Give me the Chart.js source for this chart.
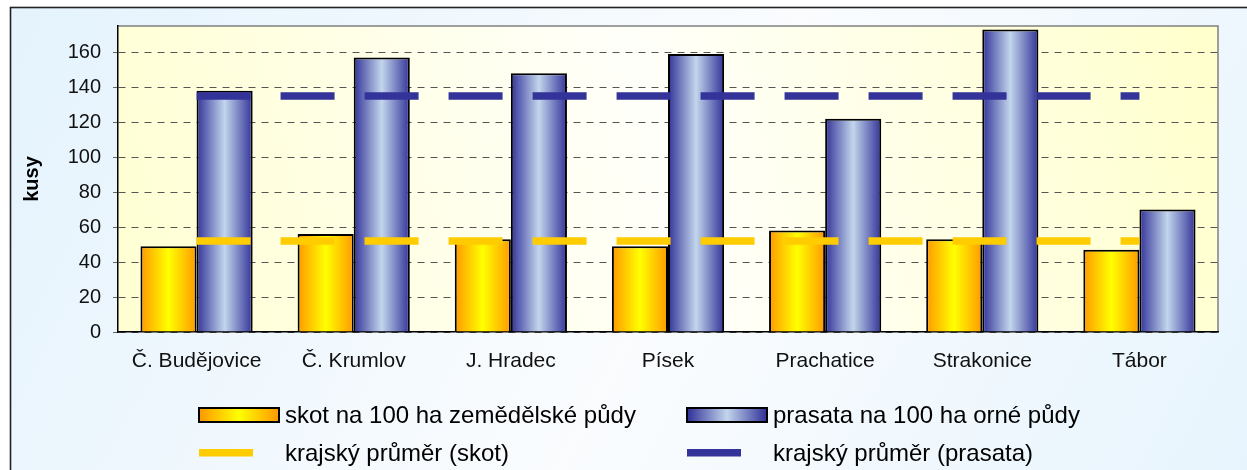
<!DOCTYPE html>
<html>
<head>
<meta charset="utf-8">
<script src="https://cdn.jsdelivr.net/npm/chart.js@4/dist/chart.umd.min.js"></script>
<style>
  html, body { margin: 0; padding: 0; background: #ffffff; }
  #wrap { width: 1247px; height: 470px; position: relative; }
</style>
</head>
<body>
<div id="wrap"><canvas id="c" width="1247" height="470"></canvas></div>
<script>
// ---- data ----
const categories = ['Č. Budějovice', 'Č. Krumlov', 'J. Hradec', 'Písek', 'Prachatice', 'Strakonice', 'Tábor'];
const skot = [49, 56, 53, 49, 58, 53, 47];
const prasata = [138, 157, 148, 159, 122, 173, 70];
const skotPrumer = [52, 52, 52, 52, 52, 52, 52];
const prasataPrumer = [135, 135, 135, 135, 135, 135, 135];
const yMin = 0;
const yMax = 175;
const yStep = 20;
const yTitle = 'kusy';
const seriesLabels = ['skot na 100 ha zemědělské půdy', 'prasata na 100 ha orné půdy', 'krajský průměr (skot)', 'krajský průměr (prasata)'];

// ---- styling ----
const FONT = '"Liberation Sans", Arial, sans-serif';
const CAT_PCT = 0.714;
const orangeStops = ['#FF9900', '#FFFF00', '#FF9900'];
const blueStops = ['#333399', '#C2D6EC', '#333399'];
const yellowLine = '#FFCC00';
const blueLine = '#333399';

function hGrad(ctx2d, x0, x1, stops) {
  const g = ctx2d.createLinearGradient(x0, 0, x1, 0);
  g.addColorStop(0, stops[0]);
  g.addColorStop(0.5, stops[1]);
  g.addColorStop(1, stops[2]);
  return g;
}

function barFill(stops, side) {
  return function (context) {
    const chart = context.chart;
    if (context.type !== 'data' || !chart.chartArea || !chart.scales.x) return stops[1];
    const xs = chart.scales.x;
    const center = xs.getPixelForValue(context.dataIndex);
    const catW = (xs.right - xs.left) / categories.length;
    const bw = catW * CAT_PCT / 2;
    const x0 = side === 0 ? center - bw : center;
    return hGrad(chart.ctx, x0, x0 + bw, stops);
  };
}

const backgroundPlugin = {
  id: 'bgPlugin',
  beforeDraw(chart) {
    const ctx = chart.ctx;
    const W = chart.width, H = chart.height;
    ctx.save();
    ctx.fillStyle = '#ffffff';
    ctx.fillRect(0, 0, W, H);
    // outer panel
    const og = ctx.createLinearGradient(10, 7, W, H + 200);
    og.addColorStop(0, '#E4F3FD');
    og.addColorStop(0.5, '#FAFCFE');
    og.addColorStop(1, '#E4F3FD');
    ctx.fillStyle = og;
    ctx.fillRect(10, 7, W - 10, H - 7);
    ctx.strokeStyle = '#222222';
    ctx.lineWidth = 1.6;
    ctx.strokeRect(10.5, 7.5, W + 10, H + 10);
    // plot area
    const a = chart.chartArea;
    const pg = ctx.createLinearGradient(a.left, a.bottom, a.right, a.top);
    pg.addColorStop(0, '#FFFFD2');
    pg.addColorStop(0.5, '#FFFFFA');
    pg.addColorStop(1, '#FFFFCC');
    ctx.fillStyle = pg;
    ctx.fillRect(a.left, a.top, a.right - a.left, a.bottom - a.top);
    ctx.strokeStyle = '#808080';
    ctx.lineWidth = 1.5;
    ctx.beginPath();
    ctx.moveTo(a.left, a.top);
    ctx.lineTo(a.right, a.top);
    ctx.lineTo(a.right, a.bottom);
    ctx.stroke();
    ctx.restore();
  }
};

const legendPlugin = {
  id: 'customLegend',
  afterDraw(chart) {
    const ctx = chart.ctx;
    ctx.save();
    const cols = [198, 686];
    const textX = [285, 773];
    const rows = [415, 453];
    const ds = chart.data.datasets;
    ctx.font = '24px ' + FONT;
    ctx.fillStyle = '#000000';
    ctx.textBaseline = 'middle';
    ctx.textAlign = 'left';
    // bar swatches
    const barStops = [orangeStops, blueStops];
    for (let i = 0; i < 2; i++) {
      const x = cols[i], y = rows[0] - 8, w = 82, h = 16;
      ctx.fillStyle = '#000000';
      ctx.fillRect(x, y, w, h);
      ctx.fillStyle = hGrad(ctx, x + 2, x + w - 2, barStops[i]);
      ctx.fillRect(x + 2, y + 2, w - 4, h - 4);
      ctx.fillStyle = '#000000';
      ctx.fillText(ds[i].label, textX[i], rows[0] + 1);
    }
    // line swatches
    for (let i = 0; i < 2; i++) {
      const d = ds[2 + i];
      ctx.fillStyle = d.borderColor;
      ctx.fillRect(cols[i] + 1, rows[1] - 4, 54, 7.5);
      ctx.fillStyle = '#000000';
      ctx.fillText(d.label, textX[i], rows[1] + 1);
    }
    ctx.restore();
  }
};

const chart = new Chart(document.getElementById('c'), {
  data: {
    labels: categories,
    datasets: [
      {
        type: 'bar', label: seriesLabels[0], data: skot, order: 2,
        backgroundColor: barFill(orangeStops, 0), borderColor: '#000000', borderWidth: 2,
        categoryPercentage: CAT_PCT, barPercentage: 1
      },
      {
        type: 'bar', label: seriesLabels[1], data: prasata, order: 2,
        backgroundColor: barFill(blueStops, 1), borderColor: '#000000', borderWidth: 2,
        categoryPercentage: CAT_PCT, barPercentage: 1
      },
      {
        type: 'line', label: seriesLabels[2], data: skotPrumer, order: 1,
        borderColor: yellowLine, backgroundColor: yellowLine, borderWidth: 7.5,
        borderDash: [54, 30], borderCapStyle: 'butt', pointRadius: 0, fill: false, tension: 0
      },
      {
        type: 'line', label: seriesLabels[3], data: prasataPrumer, order: 1,
        borderColor: blueLine, backgroundColor: blueLine, borderWidth: 7.5,
        borderDash: [54, 30], borderCapStyle: 'butt', pointRadius: 0, fill: false, tension: 0
      }
    ]
  },
  options: {
    responsive: false,
    animation: false,
    devicePixelRatio: 1,
    layout: { padding: { left: 16, right: 29, top: 26, bottom: 0 } },
    plugins: { legend: { display: false }, tooltip: { enabled: false }, title: { display: false } },
    scales: {
      x: {
        offset: true,
        grid: { display: false, drawTicks: false },
        border: { display: true, color: '#000000', width: 1.5 },
        ticks: { color: '#111111', font: { family: FONT, size: 21 }, padding: 17, maxRotation: 0, autoSkip: false },
        afterFit(scale) { scale.height = 138; }
      },
      y: {
        min: yMin, max: yMax,
        ticks: { stepSize: yStep, includeBounds: false, color: '#111111', font: { family: FONT, size: 20 }, padding: 12 },
        grid: { color: '#555555', lineWidth: 1, tickLength: 5, tickColor: '#666666', tickBorderDash: [] },
        border: { display: true, color: '#000000', width: 1.5, dash: [7, 6] },
        title: { display: true, text: yTitle, color: '#000000', font: { family: FONT, size: 20, weight: 'bold' }, padding: { top: 4, bottom: 4 } },
        afterFit(scale) { scale.width = 102; }
      }
    }
  },
  plugins: [backgroundPlugin, legendPlugin]
});
</script>
</body>
</html>
